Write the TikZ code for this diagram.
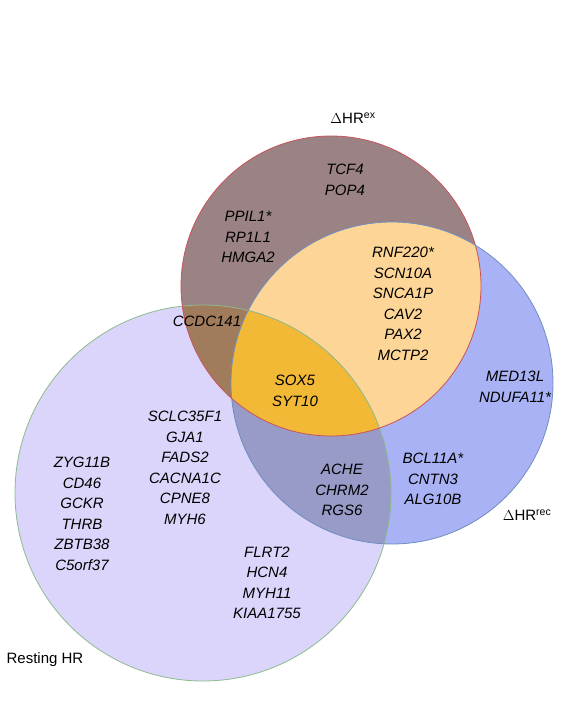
\documentclass[tikz,border=0pt]{standalone}
\usepackage{fontspec}
\setmainfont{Liberation Sans}
\definecolor{exfill}{RGB}{155,130,132}
\definecolor{recfill}{RGB}{168,178,244}
\definecolor{restfill}{RGB}{219,213,251}
\definecolor{exrecfill}{RGB}{253,213,150}
\definecolor{exrestfill}{RGB}{160,124,92}
\definecolor{recrestfill}{RGB}{152,154,200}
\definecolor{allfill}{RGB}{242,185,55}
\definecolor{exline}{RGB}{200,85,90}
\definecolor{recline}{RGB}{111,143,192}
\definecolor{restline}{RGB}{141,187,141}
\tikzset{
	gene/.style={font=\itshape\fontsize{15}{20.5}\selectfont, align=center, inner sep=0pt},
	setname/.style={font=\fontsize{15}{18}\selectfont, inner sep=0pt}
}
\begin{document}
\begin{tikzpicture}[x=1pt, y=-1pt]
		\useasboundingbox (0,0) rectangle (569,705);
		\coordinate (ex) at (331,286);
		\coordinate (rec) at (392,383);
		\coordinate (rest) at (203,493);
		% the three sets
		\fill[restfill] (rest) circle (188pt);
		\fill[recfill] (rec) circle (161pt);
		\fill[exfill] (ex) circle (150pt);
		% overlaps
		\begin{scope}
			\clip (ex) circle (150pt);
			\fill[exrecfill] (rec) circle (161pt);
			\fill[exrestfill] (rest) circle (188pt);
		\end{scope}
		\begin{scope}
			\clip (rec) circle (161pt);
			\fill[recrestfill] (rest) circle (188pt);
			\clip (ex) circle (150pt);
			\fill[allfill] (rest) circle (188pt);
		\end{scope}
		\draw[restline, line width=0.8pt] (rest) circle (188pt);
		\draw[recline, line width=0.8pt] (rec) circle (161pt);
		\draw[exline, line width=0.8pt] (ex) circle (150pt);
		% labels
		\node[setname] (exname) at (353,118) {$\Delta$HR\textsuperscript{ex}};
		\node[setname] (recname) at (527,515) {$\Delta$HR\textsuperscript{rec}};
		\node[setname] (restname) at (45,660) {Resting HR};
		\node[gene] (exonly) at (345,180) {TCF4\\POP4};
		\node[gene] (exleft) at (248,237) {PPIL1*\\RP1L1\\HMGA2};
		\node[gene] (exrec) at (403,304) {RNF220*\\SCN10A\\SNCA1P\\CAV2\\PAX2\\MCTP2};
		\node[gene] (exrest) at (207,321) {CCDC141};
		\node[gene] (all) at (295,391) {SOX5\\SYT10};
		\node[gene] (recright) at (515,387) {MED13L\\NDUFA11*};
		\node[gene] (reclow) at (433,479) {BCL11A*\\CNTN3\\ALG10B};
		\node[gene] (recrest) at (342,490) {ACHE\\CHRM2\\RGS6};
		\node[gene] (restmid) at (185,468) {SCLC35F1\\GJA1\\FADS2\\CACNA1C\\CPNE8\\MYH6};
		\node[gene] (restleft) at (82,514) {ZYG11B\\CD46\\GCKR\\THRB\\ZBTB38\\C5orf37};
		\node[gene] (restlow) at (267,583) {FLRT2\\HCN4\\MYH11\\KIAA1755};
	\end{tikzpicture}
\end{document}
